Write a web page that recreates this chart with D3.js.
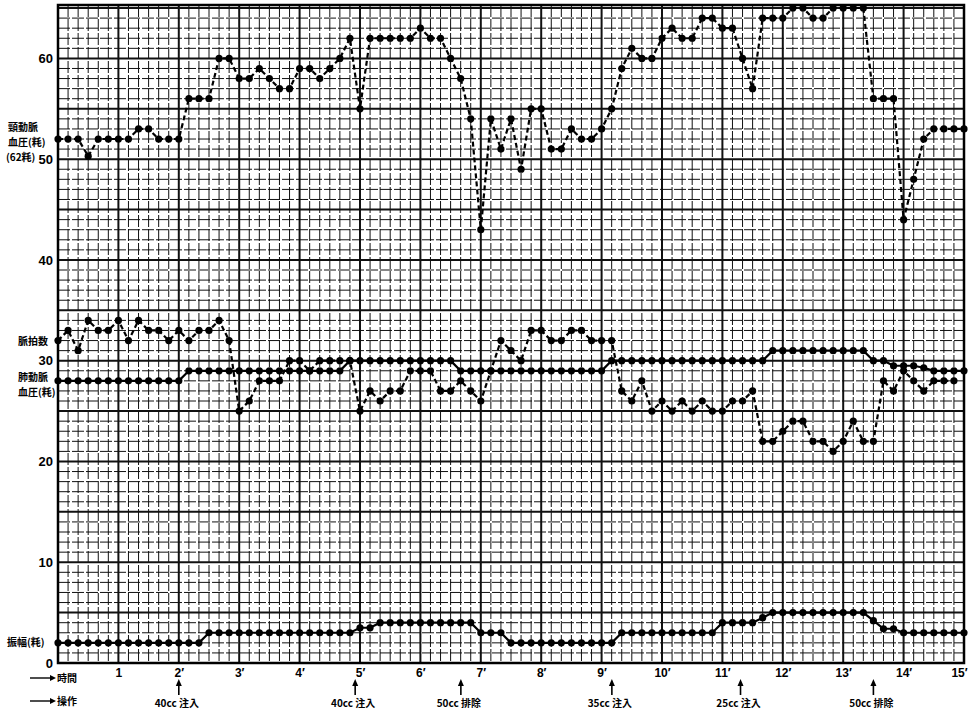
<!DOCTYPE html>
<html>
<head>
<meta charset="utf-8">
<script src="https://cdn.jsdelivr.net/npm/d3@7"></script>
<style>
  html, body { margin: 0; padding: 0; background: #fff; }
  svg { display: block; }
  .jp { font-family: "Noto Sans CJK JP", "Noto Sans", sans-serif; font-weight: 700; }
  .num { font-family: "Liberation Sans", "DejaVu Sans", sans-serif; font-weight: 700; }
</style>
</head>
<body>
<svg id="chart" width="968" height="714"></svg>
<script>
// Readings every 10 seconds, from 0' to 15' (91 samples).
const minuteTicks = [1, 2, 3, 4, 5, 6, 7, 8, 9, 10, 11, 12, 13, 14, 15];
const valueTicks = [0, 10, 20, 30, 40, 50, 60];

// 頸動脈血圧 (粍)
const carotidPressure = [
  52, 52, 52, 50.3, 52, 52, 52, 52, 53, 53, 52, 52, 52,
  56, 56, 56, 60, 60, 58, 58, 59, 58, 57, 57, 59, 59, 58,
  59, 60, 62, 55, 62, 62, 62, 62, 62, 63, 62, 62, 60, 58,
  54, 43, 54, 51, 54, 49, 55, 55, 51, 51, 53, 52, 52, 53, 55, 59, 61, 60,
  60, 62, 63, 62, 62, 64, 64, 63, 63, 60, 57, 64, 64, 64, 65, 65, 64,
  64, 65, 65, 65, 65, 56, 56, 56, 44, 48, 52, 53, 53, 53, 53
];

// 脈拍数
const pulseRate = [
  32, 33, 31, 34, 33, 33, 34, 32, 34, 33, 33, 32, 33, 32, 33, 33, 34, 32,
  25, 26, 28, 28, 28, 30, 30, 29, 30, 30, 30, 30, 25,
  27, 26, 27, 27, 29, 29, 29, 27, 27, 28, 27, 26, 29,
  32, 31, 30, 33, 33, 32, 32, 33, 33, 32, 32, 32, 27, 26, 28,
  25, 26, 25, 26, 25, 26, 25, 25, 26, 26, 27,
  22, 22, 23, 24, 24, 22, 22, 21, 22, 24, 22, 22, 28, 27, 29, 28, 27, 28, 28, 28,
  null
];

// 肺動脈血圧 (粍)
const pulmonaryPressure = [
  28, 28, 28, 28, 28, 28, 28, 28, 28, 28, 28, 28, 28,
  29, 29, 29, 29, 29, 29, 29, 29, 29, 29, 29, 29, 29, 29, 29, 29,
  30, 30, 30, 30, 30, 30, 30, 30, 30, 30, 30,
  29, 29, 29, 29, 29, 29, 29, 29, 29, 29, 29, 29, 29, 29, 29,
  30, 30, 30, 30, 30, 30, 30, 30, 30, 30, 30, 30, 30, 30, 30, 30,
  31, 31, 31, 31, 31, 31, 31, 31, 31, 31,
  30, 30, 29.5, 29.5, 29.5, 29.3, 29, 29, 29, 29
];

// 振幅 (粍)
const amplitude = [
  2, 2, 2, 2, 2, 2, 2, 2, 2, 2, 2, 2, 2, 2, 2,
  3, 3, 3, 3, 3, 3, 3, 3, 3, 3, 3, 3, 3, 3, 3,
  3.5, 3.5,
  4, 4, 4, 4, 4, 4, 4, 4, 4, 4,
  3, 3, 3,
  2, 2, 2, 2, 2, 2, 2, 2, 2, 2, 2,
  3, 3, 3, 3, 3, 3, 3, 3, 3, 3,
  4, 4, 4, 4, 4.5,
  5, 5, 5, 5, 5, 5, 5, 5, 5, 5,
  4.2, 3.4, 3.4,
  3, 3, 3, 3, 3, 3, 3
];

// 操作 (time in minutes, label)
const operationTimes = [2, 4.92, 6.67, 9.17, 11.3, 13.5];
const operationLabels = ["40cc 注入", "40cc 注入", "50cc 排除", "35cc 注入", "25cc 注入", "50cc 排除"];

const svg = d3.select("#chart");
const x = d3.scaleLinear().domain([0, 15]).range([58, 964]);
const y = d3.scaleLinear().domain([0, 65.3]).range([663, 5]);
const tOf = i => i / 6;

// ---- graph paper ----
const grid = svg.append("g");
const vLines = d3.range(0, 91).map(k => k / 6);
grid.selectAll("line.v").data(vLines).enter().append("line")
  .attr("x1", d => x(d)).attr("x2", d => x(d))
  .attr("y1", y(65.3)).attr("y2", y(0))
  .attr("stroke", "#111")
  .attr("stroke-width", (d, i) => i % 6 === 0 ? 2 : 1)
  .attr("stroke-dasharray", (d, i) => i % 6 === 0 ? null : "12,2");
const hLines = d3.range(0, 66);
grid.selectAll("line.h").data(hLines).enter().append("line")
  .attr("y1", d => y(d)).attr("y2", d => y(d))
  .attr("x1", x(0)).attr("x2", x(15))
  .attr("stroke", "#111")
  .attr("stroke-width", d => d % 5 === 0 ? 2 : 1)
  .attr("stroke-dasharray", d => d % 5 === 0 ? null : "12,2");
grid.append("rect")
  .attr("x", x(0)).attr("y", y(65.3))
  .attr("width", x(15) - x(0)).attr("height", y(0) - y(65.3))
  .attr("fill", "none").attr("stroke", "#000").attr("stroke-width", 2.5);

// ---- axes ----
const yAxis = d3.axisLeft(y).tickValues(valueTicks).tickSize(0).tickPadding(5).tickFormat(d3.format("d"));
svg.append("g").attr("transform", `translate(${x(0)},0)`).call(yAxis)
  .call(g => g.select(".domain").remove())
  .selectAll("text").attr("class", "num").attr("font-size", 13).attr("fill", "#000");

const xAxis = d3.axisBottom(x).tickValues(minuteTicks).tickSize(0).tickPadding(5)
  .tickFormat(d => d === 1 ? "1" : d + "′");
svg.append("g").attr("transform", `translate(0,${y(0)})`).call(xAxis)
  .call(g => g.select(".domain").remove())
  .selectAll("text").attr("class", "num").attr("font-size", 12).attr("fill", "#000")
  .attr("dx", d => d === 15 ? -5 : 0);

// ---- series ----
function drawSeries(values, dashed) {
  const pts = values.map((v, i) => ({ t: tOf(i), v })).filter(p => p.v !== null);
  const line = d3.line().x(p => x(p.t)).y(p => y(p.v));
  const g = svg.append("g");
  g.append("path").datum(pts)
    .attr("d", line)
    .attr("fill", "none")
    .attr("stroke", "#000")
    .attr("stroke-width", 2.2)
    .attr("stroke-dasharray", dashed ? "5,3" : null);
  g.selectAll("circle").data(pts).enter().append("circle")
    .attr("cx", p => x(p.t)).attr("cy", p => y(p.v))
    .attr("r", 3.6).attr("fill", "#000");
}
drawSeries(carotidPressure, true);
drawSeries(pulmonaryPressure, false);
drawSeries(pulseRate, true);
drawSeries(amplitude, false);

// ---- series labels ----
const labels = [
  { text: "頸動脈", x: 8, y: 131 },
  { text: "血圧(粍)", x: 8, y: 146 },
  { text: "(62粍)", x: 6, y: 161 },
  { text: "脈拍数", x: 18, y: 345 },
  { text: "肺動脈", x: 18, y: 381 },
  { text: "血圧(粍)", x: 18, y: 396 },
  { text: "振幅(粍)", x: 7, y: 646 }
];
svg.append("g").selectAll("text").data(labels).enter().append("text")
  .attr("class", "jp").attr("font-size", 10)
  .attr("x", d => d.x).attr("y", d => d.y).text(d => d.text);

// ---- row headings under the time axis ----
const rowHeads = [{ text: "時間", y: 678 }, { text: "操作", y: 701 }];
const rh = svg.append("g");
rowHeads.forEach(r => {
  rh.append("line").attr("x1", 30).attr("x2", 50).attr("y1", r.y).attr("y2", r.y)
    .attr("stroke", "#000").attr("stroke-width", 1.4);
  rh.append("path").attr("d", `M50,${r.y - 3} L56,${r.y} L50,${r.y + 3} Z`).attr("fill", "#000");
  rh.append("text").attr("class", "jp").attr("font-size", 10)
    .attr("x", 57).attr("y", r.y + 4).text(r.text);
});

// ---- operation markers ----
const ops = svg.append("g");
operationTimes.forEach((t, i) => {
  const ax = x(t);
  ops.append("line").attr("x1", ax).attr("x2", ax).attr("y1", 684).attr("y2", 695)
    .attr("stroke", "#000").attr("stroke-width", 1.6);
  ops.append("path").attr("d", `M${ax - 3},${686} L${ax},${679} L${ax + 3},${686} Z`).attr("fill", "#000");
  ops.append("text").attr("class", "jp").attr("font-size", 10)
    .attr("text-anchor", "middle").attr("x", ax - 2).attr("y", 707)
    .text(operationLabels[i]);
});
</script>
</body>
</html>
